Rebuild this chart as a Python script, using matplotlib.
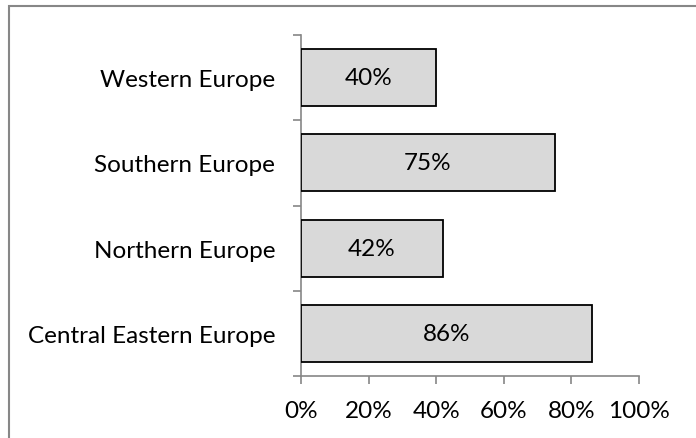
import matplotlib
matplotlib.use("Agg")
import matplotlib.pyplot as plt
from matplotlib.patches import Rectangle

regions = ["Central Eastern Europe", "Northern Europe", "Southern Europe", "Western Europe"]
shares = [86, 42, 75, 40]
x_ticks = [0, 20, 40, 60, 80, 100]
x_tick_labels = ["0%", "20%", "40%", "60%", "80%", "100%"]

plt.rcParams["font.family"] = ["Lato", "DejaVu Sans"]
axis_gray = "#868686"
fs = 17.5

fig = plt.figure(figsize=(6.96, 4.39), dpi=100)
ax = fig.add_axes([301 / 696, 1 - 377 / 439, 338 / 696, 341 / 439])

ypos = list(range(len(regions)))
ax.barh(ypos, shares, height=0.67, color="#d9d9d9", edgecolor="black", linewidth=1.3, zorder=3)
for y, v in zip(ypos, shares):
    ax.text(v / 2, y, f"{v}%", ha="center", va="center", fontsize=fs, color="black", zorder=4)

ax.set_xlim(0, 100)
ax.set_ylim(-0.5, len(regions) - 0.5)
ax.set_xticks(x_ticks)
ax.set_xticklabels(x_tick_labels, fontsize=fs)
ax.set_yticks([i - 0.5 for i in range(len(regions) + 1)], minor=False)
ax.set_yticklabels([])
ax.set_yticks(ypos, minor=True)
ax.set_yticklabels(regions, minor=True, fontsize=fs)
ax.tick_params(axis="y", which="minor", length=0, pad=18.5)
ax.tick_params(axis="y", which="major", length=5.5, width=1.2, color=axis_gray, direction="out")
ax.tick_params(axis="x", length=5.5, width=1.2, color=axis_gray, direction="out", pad=12)

for side in ("top", "right"):
    ax.spines[side].set_visible(False)
for side in ("left", "bottom"):
    ax.spines[side].set_color(axis_gray)
    ax.spines[side].set_linewidth(1.2)

# chart-area border, running off the lower and right edges
fig.patches.append(Rectangle((9 / 696, -0.1), 1.2, 1 - 7 / 439 + 0.1, transform=fig.transFigure,
                             fill=False, edgecolor="#878787", linewidth=1.5))

fig.savefig("out.png", dpi=100)
